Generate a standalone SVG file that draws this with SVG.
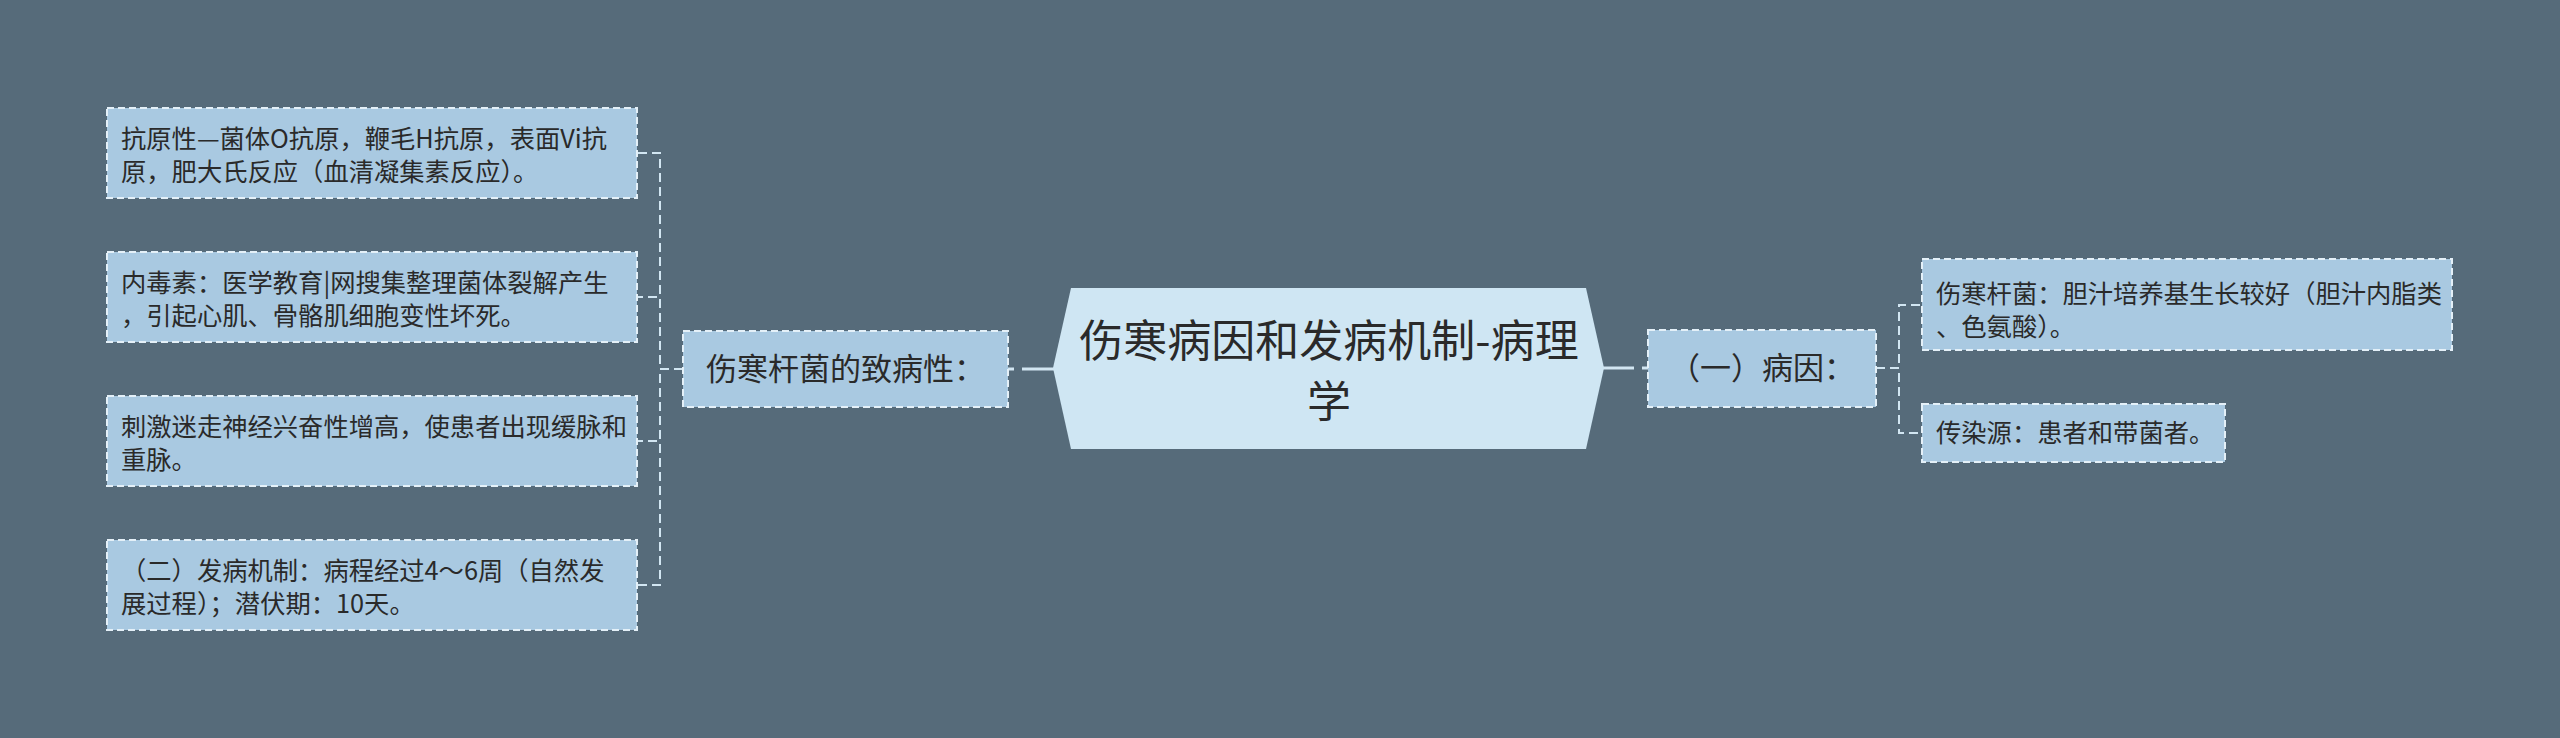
<svg xmlns="http://www.w3.org/2000/svg" width="2560" height="738" viewBox="0 0 2560 738">
<style>
text{font-family:"Noto Sans CJK SC","Noto Sans",sans-serif;fill:#2a2a2a}
.box{fill:#a9c9e1;stroke:#e4f0f8;stroke-width:2;stroke-dasharray:7 4}
.t{font-size:25.3px}
.t2{font-size:31px}
.conn{fill:none;stroke:#d2e6f2;stroke-width:2;stroke-dasharray:9 5}
.solid{fill:none;stroke:#d2e6f2;stroke-width:3}
</style>
<rect width="2560" height="738" fill="#566b7a"/>
<g id="connectors">
<path class="conn" d="M683,369 H660 V153 H637"/>
<path class="conn" d="M683,369 H660 V297 H637"/>
<path class="conn" d="M683,369 H660 V441 H637"/>
<path class="conn" d="M683,369 H660 V585 H637"/>
<path class="conn" d="M1876,368 H1899 V305 H1922"/>
<path class="conn" d="M1876,368 H1899 V433 H1922"/>
<line class="solid" x1="1022" y1="369" x2="1054" y2="369"/>
<line class="solid" x1="1008" y1="369" x2="1014" y2="369"/>
<line class="solid" x1="1602" y1="368" x2="1634" y2="368"/>
<line class="solid" x1="1642" y1="368" x2="1648" y2="368"/>
</g>
<g id="center">
<polygon points="1071,288 1586,288 1604,368 1586,449 1071,449 1053,368" fill="#cfe6f3"/>
<text x="1329" y="357" font-size="44" text-anchor="middle">伤寒病因和发病机制-病理</text>
<text x="1329" y="418" font-size="44" text-anchor="middle">学</text>
</g>
<g id="left-main">
<rect class="box" x="683" y="331" width="325" height="76"/>
<text class="t2" x="845.5" y="380" text-anchor="middle">伤寒杆菌的致病性：</text>
</g>
<g id="left-1">
<rect class="box" x="107" y="108" width="530" height="90"/>
<text class="t" x="121" y="148">抗原性—菌体O抗原，鞭毛H抗原，表面Vi抗</text>
<text class="t" x="121" y="181">原，肥大氏反应（血清凝集素反应）。</text>
</g>
<g id="left-2">
<rect class="box" x="107" y="252" width="530" height="90"/>
<text class="t" x="121" y="292">内毒素：医学教育|网搜集整理菌体裂解产生</text>
<text class="t" x="121" y="325">，引起心肌、骨骼肌细胞变性坏死。</text>
</g>
<g id="left-3">
<rect class="box" x="107" y="396" width="530" height="90"/>
<text class="t" x="121" y="436">刺激迷走神经兴奋性增高，使患者出现缓脉和</text>
<text class="t" x="121" y="469">重脉。</text>
</g>
<g id="left-4">
<rect class="box" x="107" y="540" width="530" height="90"/>
<text class="t" x="121" y="580">（二）发病机制：病程经过4～6周（自然发</text>
<text class="t" x="121" y="613">展过程）；潜伏期：10天。</text>
</g>
<g id="right-main">
<rect class="box" x="1648" y="330" width="228" height="77"/>
<text class="t2" x="1762" y="379" text-anchor="middle">（一）病因：</text>
</g>
<g id="right-1">
<rect class="box" x="1922" y="259" width="530" height="91"/>
<text class="t" x="1936" y="303">伤寒杆菌：胆汁培养基生长较好（胆汁内脂类</text>
<text class="t" x="1936" y="336">、色氨酸）。</text>
</g>
<g id="right-2">
<rect class="box" x="1922" y="404" width="303" height="58"/>
<text class="t" x="1936" y="442">传染源：患者和带菌者。</text>
</g>
</svg>
